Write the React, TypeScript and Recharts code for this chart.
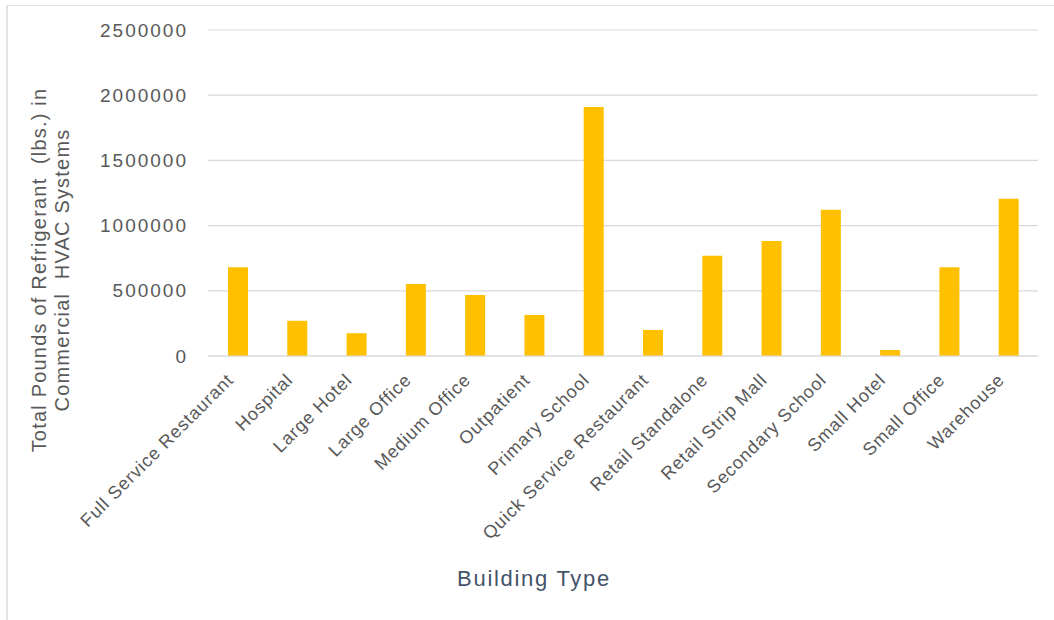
import React from 'react'
import { BarChart, Bar, XAxis, YAxis, CartesianGrid } from 'recharts'

// building types along the x axis
const buildingTypes = [
  'Full Service Restaurant',
  'Hospital',
  'Large Hotel',
  'Large Office',
  'Medium Office',
  'Outpatient',
  'Primary School',
  'Quick Service Restaurant',
  'Retail Standalone',
  'Retail Strip Mall',
  'Secondary School',
  'Small Hotel',
  'Small Office',
  'Warehouse',
]

// total pounds of refrigerant per building type
const refrigerantLbs = [
  680000, 270000, 175000, 553000, 468000, 315000, 1910000,
  200000, 768000, 881000, 1121000, 46000, 681000, 1206000,
]

const yTicks = [0, 500000, 1000000, 1500000, 2000000, 2500000]

const data = buildingTypes.map((type, i) => ({ type, lbs: refrigerantLbs[i] }))

const FONT = '"Liberation Sans", Arial, sans-serif'

function XTick({ x, y, payload }: any) {
  return (
    <text
      x={x - 3}
      y={y + 17}
      transform={`rotate(-45, ${x - 3}, ${y + 17})`}
      textAnchor="end"
      fontFamily={FONT}
      fontSize={18}
      letterSpacing={0.9}
      fill="#595959"
    >
      {payload.value}
    </text>
  )
}

function YTick({ x, y, payload }: any) {
  return (
    <text x={x} y={y} dy="0.35em" textAnchor="end" fontFamily={FONT} fontSize={19} letterSpacing={2} fill="#595959">
      {payload.value}
    </text>
  )
}

function YTitle() {
  return (
    <text
      transform="rotate(-90)"
      textAnchor="middle"
      fontFamily={FONT}
      fontSize={20}
      letterSpacing={1.2}
      fill="#595959"
      style={{ whiteSpace: 'pre' }}
    >
      <tspan x={-270} y={46}>Total Pounds of Refrigerant  (lbs.) in</tspan>
      <tspan x={-270} y={69}>Commercial  HVAC Systems</tspan>
    </text>
  )
}

function XTitle() {
  return (
    <text x={534} y={586} textAnchor="middle" fontFamily={FONT} fontSize={22} letterSpacing={1.7} fill="#44546A">
      Building Type
    </text>
  )
}

export default function App() {
  return (
    <div
      style={{
        position: 'absolute',
        left: 0,
        top: 0,
        width: 1054,
        height: 620,
        background: '#fff',
      }}
    >
      <div
        style={{
          position: 'absolute',
          left: 6,
          top: 5,
          right: 0,
          bottom: 0,
          borderTop: '1px solid #e2e2e2',
          borderLeft: '2px solid #e2e2e2',
        }}
      />
      <BarChart width={1054} height={620} data={data} margin={{ top: 30, right: 16, bottom: 44, left: 0 }}>
        <CartesianGrid vertical={false} stroke="#d9d9d9" strokeWidth={1.2} />
        <XAxis
          dataKey="type"
          interval={0}
          height={220}
          tickLine={false}
          axisLine={{ stroke: '#d9d9d9', strokeWidth: 1.2 }}
          tick={<XTick />}
          label={<XTitle />}
        />
        <YAxis
          width={208}
          domain={[0, 2500000]}
          ticks={yTicks}
          tickLine={false}
          axisLine={false}
          tickSize={0}
          tickMargin={20}
          tick={<YTick />}
          label={<YTitle />}
        />
        <Bar dataKey="lbs" fill="#FFC000" barSize={20} isAnimationActive={false} />
      </BarChart>
    </div>
  )
}
